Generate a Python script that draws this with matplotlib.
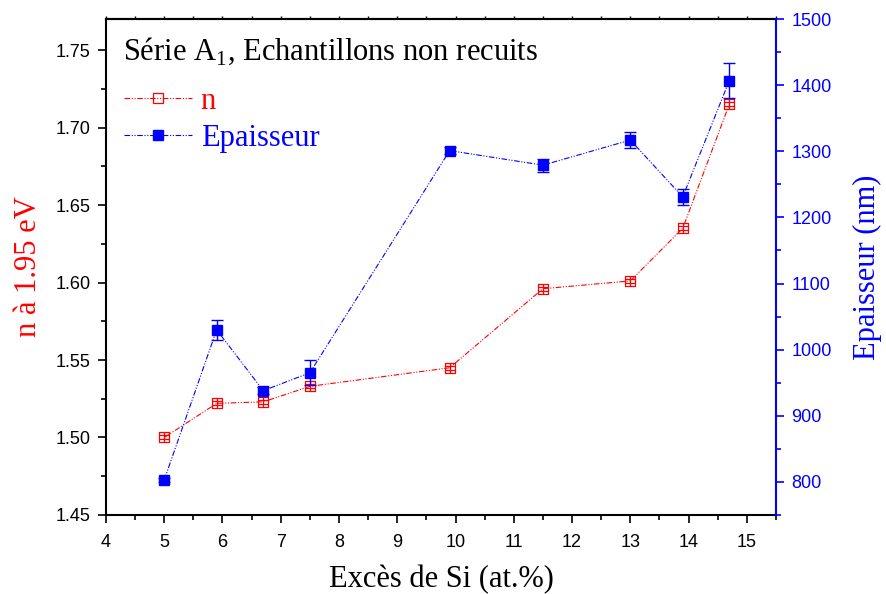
import numpy as np
import matplotlib
matplotlib.use("Agg")
from matplotlib import pyplot as plt
from matplotlib.path import Path
from matplotlib.lines import Line2D
from matplotlib.ticker import MultipleLocator

# data
x_si = [5.0, 5.9, 6.7, 7.5, 9.9, 11.5, 13.0, 13.9, 14.7]
n_val = [1.500, 1.522, 1.523, 1.533, 1.545, 1.596, 1.601, 1.635, 1.715]
ep_val = [803, 1030, 938, 965, 1301, 1279, 1317, 1231, 1407]
ep_err = [3, 15, 5, 19, 5, 10, 12, 12, 26]

x_ticks = list(range(4, 16))
n_ticks = [1.45, 1.50, 1.55, 1.60, 1.65, 1.70, 1.75]
ep_ticks = [800, 900, 1000, 1100, 1200, 1300, 1400, 1500]

serif = "Liberation Serif"
sans = "Liberation Sans"
dashdotdot = (0, (5, 1.5, 1, 1.5, 1, 1.5))

plt.rcParams["mathtext.fontset"] = "custom"
plt.rcParams["mathtext.rm"] = serif

# square with one vertical and two horizontal lines (Origin style)
grid_sq = Path(
    [(-1, -1), (1, -1), (1, 1), (-1, 1), (-1, -1),
     (0, -1), (0, 1),
     (-1, -0.33), (1, -0.33),
     (-1, 0.33), (1, 0.33)],
    [Path.MOVETO, Path.LINETO, Path.LINETO, Path.LINETO, Path.CLOSEPOLY,
     Path.MOVETO, Path.LINETO,
     Path.MOVETO, Path.LINETO,
     Path.MOVETO, Path.LINETO])

fig = plt.figure(figsize=(8.86, 5.94), dpi=100)
ax = fig.add_axes([0.1196, 0.133, 0.7562, 0.835])
ax2 = ax.twinx()

ax.plot(x_si, n_val, color="red", lw=0.8, ls=dashdotdot, marker=grid_sq, ms=7.5,
        mfc="none", mec="red", mew=0.9, zorder=3)

ax2.errorbar(x_si, ep_val, yerr=ep_err, color="blue", lw=0.8, ls=dashdotdot,
             marker="s", ms=7.5, mfc="blue", mec="blue", ecolor="blue",
             elinewidth=1.0, capsize=4, capthick=1.0)

ax.set_xlim(4, 15.5)
ax.set_ylim(1.45, 1.77)
ax2.set_ylim(750, 1500)

ax.set_xticks(x_ticks)
ax.xaxis.set_minor_locator(MultipleLocator(0.5))
ax.set_yticks(n_ticks)
ax.set_yticklabels(["%.2f" % v for v in n_ticks])
ax.yaxis.set_minor_locator(MultipleLocator(0.025))
ax2.set_yticks(ep_ticks)
ax2.yaxis.set_minor_locator(MultipleLocator(50))

ax.tick_params(which="major", direction="out", length=6, width=1.2,
               labelsize=13, top=False, pad=5)
ax.tick_params(axis="x", which="major", pad=8)
ax.tick_params(which="minor", direction="out", length=3.5, width=1.2, top=False)
for lab in ax.get_xticklabels() + ax.get_yticklabels():
    lab.set_fontfamily(sans)

ax2.tick_params(which="major", direction="out", length=6, width=1.2,
                colors="blue", labelsize=13, pad=5)
ax2.tick_params(which="minor", direction="out", length=3.5, width=1.2,
                colors="blue")
for lab in ax2.get_yticklabels():
    lab.set_fontfamily(sans)

for side in ["left", "bottom", "top"]:
    ax.spines[side].set_linewidth(1.5)
ax2.spines["right"].set_color("blue")
ax2.spines["right"].set_linewidth(1.5)
ax2.spines["top"].set_visible(False)
ax2.spines["left"].set_visible(False)
ax2.spines["bottom"].set_visible(False)
ax.spines["right"].set_visible(False)

# small ticks on the top spine
top = ax.secondary_xaxis("top")
top.set_xticks(np.arange(4, 15.51, 0.5))
top.tick_params(direction="out", length=2, width=1.0, labeltop=False)
top.spines["top"].set_linewidth(1.5)

ax.set_xlabel("Excès de Si (at.%)", family=serif, fontsize=22, labelpad=10)
ax.set_ylabel("n à 1.95 eV", family=serif, fontsize=22, color="red", labelpad=9)
ax2.set_ylabel("Epaisseur (nm)", family=serif, fontsize=22, color="blue", labelpad=15)

ax.text(0.025, 0.935, "Série A$_{\\mathregular{1}}$, Echantillons non recuits",
        transform=ax.transAxes, family=serif, fontsize=22, va="center")

handles = [
    Line2D([], [], color="red", lw=0.8, ls=dashdotdot, marker="s", ms=7.5,
           mfc="none", mec="red", mew=0.9),
    Line2D([], [], color="blue", lw=0.8, ls=dashdotdot, marker="s", ms=7.5,
           mfc="blue", mec="blue"),
]
leg = ax.legend(handles, ["n", "Epaisseur"], loc="upper left",
                bbox_to_anchor=(0.0, 0.9), frameon=False,
                prop={"family": serif, "size": 22},
                handlelength=2.2, handletextpad=0.3, labelspacing=0.25,
                borderaxespad=0.2)
leg.get_texts()[0].set_color("red")
leg.get_texts()[1].set_color("blue")

fig.savefig("out.png", dpi=100)
